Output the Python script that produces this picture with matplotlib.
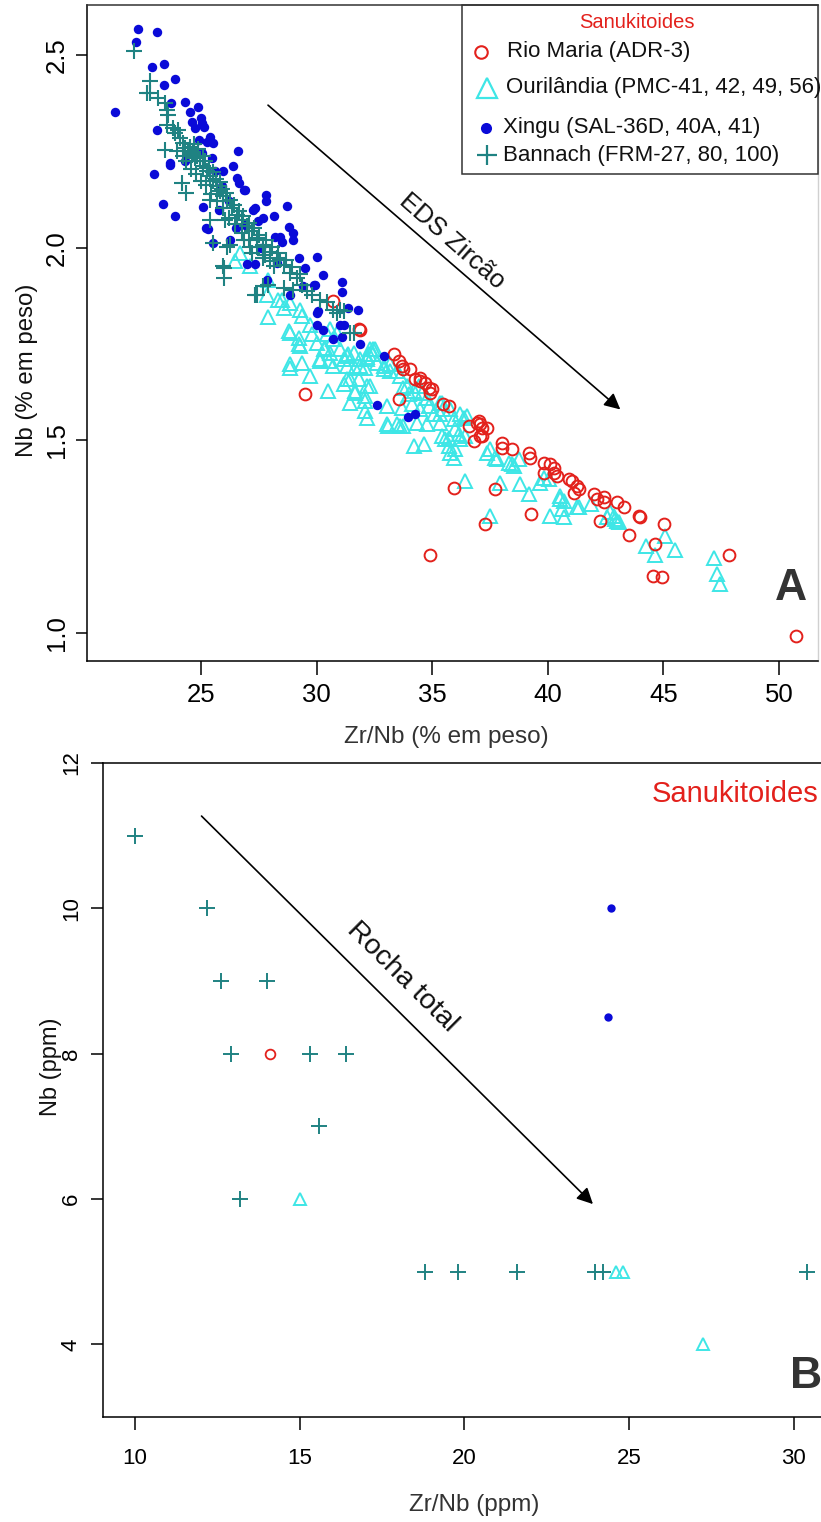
import matplotlib
matplotlib.use("Agg")
import matplotlib.pyplot as plt
from matplotlib.patches import Rectangle

plt.rcParams['font.family'] = ['Liberation Sans', 'DejaVu Sans']

# ---------------- data : panel A (EDS zircão) ----------------
xingu_pts = [(22.26, 2.567), (23.11, 2.559), (22.20, 2.534), (22.90, 2.470), (23.40, 2.477), (23.88, 2.438),
             (23.40, 2.423), (21.28, 2.352), (24.30, 2.377), (24.86, 2.366), (24.54, 2.353), (25.00, 2.336),
             (25.06, 2.323), (24.75, 2.310), (24.60, 2.327), (23.10, 2.306), (25.39, 2.288), (25.54, 2.271),
             (25.25, 2.274), (26.62, 2.250), (23.70, 2.376), (23.68, 2.219), (24.31, 2.224), (25.03, 2.245),
             (25.47, 2.232), (22.97, 2.190), (23.67, 2.215), (23.37, 2.113), (23.88, 2.083), (26.40, 2.213),
             (26.58, 2.180), (26.84, 2.150), (27.82, 2.137), (27.82, 2.120), (28.72, 2.107), (27.34, 2.103),
             (27.70, 2.077), (28.17, 2.083), (25.08, 2.105), (25.32, 2.048), (25.54, 2.012), (26.26, 2.021),
             (28.79, 2.054), (29.00, 2.038), (29.00, 2.021), (28.50, 2.016), (28.21, 2.029), (30.00, 1.977),
             (29.22, 1.973), (26.98, 1.958), (27.34, 1.958), (27.85, 1.917), (28.86, 1.876), (30.27, 1.930),
             (31.10, 1.910), (31.10, 1.885), (29.94, 1.902), (30.08, 1.835), (31.38, 1.844), (31.81, 1.838),
             (30.00, 1.798), (30.27, 1.785), (31.02, 1.800), (31.17, 1.798), (30.73, 1.762), (31.10, 1.769),
             (31.89, 1.751), (32.90, 1.718), (25.12, 2.314), (25.97, 2.198), (25.90, 2.159), (26.66, 2.168),
             (26.91, 2.150), (25.80, 2.098), (27.27, 2.098), (27.45, 2.068), (25.22, 2.051), (26.50, 2.051),
             (28.42, 2.029), (29.51, 1.947), (32.61, 1.591), (33.94, 1.561), (34.27, 1.569), (30.00, 1.831),
             (29.91, 1.904), (24.90, 2.280), (25.60, 2.200), (26.20, 2.120), (26.90, 2.060), (27.60, 2.000),
             (28.30, 1.960), (29.40, 1.900)]

bannach_pts = [(22.12, 2.510), (22.80, 2.433), (22.65, 2.401), (22.80, 2.401), (23.16, 2.388), (23.45, 2.375),
               (23.52, 2.358), (23.59, 2.345), (23.52, 2.319), (23.81, 2.310), (23.88, 2.297), (24.02, 2.306),
               (23.45, 2.254), (24.10, 2.284), (24.24, 2.271), (24.31, 2.258), (24.46, 2.250), (24.60, 2.241),
               (24.75, 2.232), (23.95, 2.250), (24.24, 2.237), (24.17, 2.169), (24.34, 2.143), (26.00, 1.947),
               (26.00, 1.921), (27.42, 1.878), (26.26, 2.008),
               (24.53, 2.262), (24.67, 2.249), (24.82, 2.237), (24.96, 2.224), (25.10, 2.211), (25.25, 2.198),
               (25.39, 2.185), (25.54, 2.172), (25.68, 2.159), (25.83, 2.146), (25.97, 2.133), (26.12, 2.120),
               (26.33, 2.103), (26.55, 2.085), (26.77, 2.073), (26.98, 2.055), (27.20, 2.042), (27.42, 2.025),
               (27.70, 2.008), (27.99, 1.990), (28.28, 1.973), (28.57, 1.956),
               (24.72, 2.268), (24.88, 2.255), (25.07, 2.238), (25.18, 2.226), (25.36, 2.207), (25.52, 2.196),
               (25.63, 2.178), (25.81, 2.170), (25.93, 2.152), (26.08, 2.141), (26.27, 2.123), (26.43, 2.112),
               (26.66, 2.094), (26.83, 2.081), (27.06, 2.063), (27.31, 2.052), (27.53, 2.034), (27.82, 2.019),
               (28.07, 2.001), (28.33, 1.986), (28.68, 1.968), (28.93, 1.949), (29.27, 1.931),
               (24.37, 2.226), (24.58, 2.204), (24.79, 2.191), (25.02, 2.173), (25.22, 2.162), (25.44, 2.139),
               (25.71, 2.121), (25.94, 2.102), (26.21, 2.078), (26.48, 2.062), (26.79, 2.038), (27.08, 2.021),
               (27.41, 2.002), (27.76, 1.981),
               (25.39, 2.124), (26.04, 2.073), (25.54, 2.012), (26.12, 2.003), (25.97, 1.952), (27.20, 1.986),
               (25.40, 2.073),
               (27.34, 1.876), (27.70, 1.900), (27.92, 1.904), (28.57, 1.896), (29.00, 1.891), (29.58, 1.887),
               (29.80, 1.878), (30.16, 1.865), (30.47, 1.858), (30.71, 1.839), (31.02, 1.839), (31.17, 1.835),
               (31.60, 1.779), (28.43, 1.969), (28.86, 1.934), (29.15, 1.922), (29.36, 1.904), (26.84, 2.021),
               (27.13, 2.003), (27.70, 1.973), (27.99, 1.965), (28.14, 1.952), (30.88, 1.831), (31.46, 1.779)]

ourilandia_pts = [(26.48, 1.966), (26.69, 1.986), (27.13, 1.952), (27.85, 1.878), (27.92, 1.917), (28.35, 1.865),
                  (28.50, 1.865), (28.57, 1.844), (28.86, 1.857), (29.29, 1.839), (27.92, 1.820), (29.36, 1.822),
                  (28.79, 1.783), (29.22, 1.766), (29.29, 1.746), (29.72, 1.800), (29.80, 1.775), (30.01, 1.753),
                  (30.30, 1.736), (30.44, 1.775), (30.59, 1.788), (30.73, 1.762), (30.88, 1.779), (28.86, 1.697),
                  (29.36, 1.701), (30.16, 1.710), (30.52, 1.706), (31.02, 1.736), (31.31, 1.720), (31.60, 1.727),
                  (32.18, 1.716), (32.32, 1.736), (32.46, 1.736), (28.86, 1.779), (29.22, 1.749), (28.86, 1.688),
                  (29.72, 1.667), (30.51, 1.628), (31.17, 1.645), (31.46, 1.658), (31.82, 1.658), (32.18, 1.641),
                  (32.10, 1.602), (32.18, 1.559), (31.67, 1.624), (33.04, 1.589), (33.11, 1.537), (33.76, 1.537),
                  (34.20, 1.485), (30.37, 1.740), (30.59, 1.727), (30.16, 1.705), (30.73, 1.692), (31.17, 1.710),
                  (31.38, 1.723), (31.89, 1.692), (32.18, 1.710), (32.46, 1.723), (32.61, 1.701), (32.90, 1.692),
                  (33.19, 1.679), (33.62, 1.667), (33.91, 1.641), (34.20, 1.628),
                  (32.54, 1.736), (32.25, 1.723), (31.89, 1.710), (31.31, 1.692), (31.67, 1.688), (32.10, 1.688),
                  (32.90, 1.684), (33.19, 1.697), (33.48, 1.680), (31.31, 1.658), (32.32, 1.641), (31.67, 1.628),
                  (32.10, 1.615), (31.46, 1.598), (32.10, 1.576), (33.62, 1.537), (33.76, 1.637), (33.98, 1.619),
                  (34.41, 1.641), (34.56, 1.624), (34.77, 1.611), (33.69, 1.585), (34.13, 1.593), (34.49, 1.580),
                  (34.85, 1.589), (35.07, 1.567), (35.35, 1.598), (35.35, 1.567), (35.78, 1.580), (34.34, 1.546),
                  (34.77, 1.541), (35.35, 1.546), (35.93, 1.554), (36.22, 1.567), (36.51, 1.563), (34.63, 1.490),
                  (35.42, 1.511), (35.71, 1.507), (36.14, 1.516), (36.22, 1.503), (33.04, 1.541), (33.48, 1.541),
                  (35.42, 1.598), (35.49, 1.580), (36.36, 1.559), (36.00, 1.529), (35.57, 1.503), (36.43, 1.511),
                  (35.78, 1.468), (36.00, 1.477), (35.93, 1.455), (36.43, 1.395), (37.37, 1.468), (37.52, 1.477),
                  (37.73, 1.455), (37.80, 1.451), (37.95, 1.390), (38.31, 1.442), (38.46, 1.438), (38.53, 1.433),
                  (38.74, 1.451), (38.82, 1.386), (39.18, 1.360), (39.68, 1.390), (40.04, 1.399), (39.82, 1.403),
                  (40.55, 1.356), (37.52, 1.304), (40.11, 1.304), (40.69, 1.300), (40.62, 1.321), (40.55, 1.347),
                  (41.27, 1.326), (41.85, 1.334), (42.57, 1.300), (42.86, 1.304), (43.00, 1.291), (42.71, 1.313),
                  (44.23, 1.226), (44.66, 1.202), (45.09, 1.252), (45.52, 1.216), (47.18, 1.194), (47.33, 1.153),
                  (47.44, 1.127), (35.71, 1.485), (40.69, 1.343), (41.34, 1.326), (42.93, 1.295), (43.07, 1.287)]

rio_maria_pts = [(29.51, 1.619), (30.73, 1.861), (31.82, 1.788), (31.86, 1.786), (33.33, 1.723), (33.55, 1.705),
                 (33.69, 1.692), (33.76, 1.684), (34.05, 1.684), (34.27, 1.658), (34.49, 1.662), (34.70, 1.649),
                 (34.85, 1.637), (34.92, 1.624), (33.55, 1.606), (34.49, 1.654), (34.99, 1.632), (35.49, 1.593),
                 (35.71, 1.589), (36.58, 1.537), (36.94, 1.546), (37.16, 1.533), (37.08, 1.511), (36.80, 1.498),
                 (37.01, 1.550), (37.08, 1.541), (37.37, 1.533), (37.16, 1.510), (38.02, 1.494), (38.02, 1.481),
                 (38.46, 1.477), (39.18, 1.468), (39.25, 1.455), (39.82, 1.442), (40.11, 1.438), (40.26, 1.416),
                 (39.82, 1.416), (40.40, 1.408), (40.91, 1.399), (41.06, 1.395), (41.27, 1.382), (41.35, 1.373),
                 (41.13, 1.364), (41.99, 1.360), (42.42, 1.352), (35.93, 1.377), (37.73, 1.373), (42.14, 1.347),
                 (42.42, 1.339), (43.00, 1.339), (43.29, 1.326), (42.25, 1.291), (43.94, 1.304), (43.98, 1.300),
                 (43.51, 1.254), (45.05, 1.282), (44.63, 1.232), (44.55, 1.148), (44.94, 1.144), (47.86, 1.202),
                 (50.72, 0.993), (34.92, 1.202), (37.30, 1.282), (39.28, 1.308), (40.26, 1.429)]

# ---------------- data : panel B (rocha total) ----------------
bannach_b_zrnb = [10.0, 12.2, 12.6, 14.0, 12.9, 15.3, 16.4, 15.6, 13.2, 18.8, 19.8, 21.6, 23.95, 24.2, 30.4]
bannach_b_nb = [11, 10, 9, 9, 8, 8, 8, 7, 6, 5, 5, 5, 5, 5, 5]
rio_b_zrnb = [14.1]
rio_b_nb = [8]
ouril_b_zrnb = [15.0, 24.6, 24.8, 27.25]
ouril_b_nb = [6, 5, 5, 4]
xingu_b_zrnb = [24.45, 24.35]
xingu_b_nb = [10, 8.5]

xticks_a = [25, 30, 35, 40, 45, 50]
yticks_a = [1.0, 1.5, 2.0, 2.5]
xticks_b = [10, 15, 20, 25, 30]
yticks_b = [4, 6, 8, 10, 12]

RED = '#e3211c'
CYAN = '#3ee6e6'
BLUE = '#0a0ad8'
TEAL = '#1f8282'

W, H = 821, 1522
fig = plt.figure(figsize=(W / 100, H / 100), dpi=100)


def rect(l, t, r, b):
    return [l / W, 1 - b / H, (r - l) / W, (b - t) / H]


def unzip(pts):
    return [p[0] for p in pts], [p[1] for p in pts]


axA = fig.add_axes(rect(87, 5, 818, 661))
axB = fig.add_axes(rect(103, 763, 845, 1417))

# ---- panel A ----
x, y = unzip(ourilandia_pts)
axA.plot(x, y, ls='none', marker='^', ms=10, mfc='none', mec=CYAN, mew=1.4)
x, y = unzip(rio_maria_pts)
axA.plot(x, y, ls='none', marker='o', ms=8.5, mfc='none', mec=RED, mew=1.4)
x, y = unzip(xingu_pts)
axA.plot(x, y, ls='none', marker='o', ms=6.8, mfc=BLUE, mec=BLUE, mew=0)
x, y = unzip(bannach_pts)
axA.plot(x, y, ls='none', marker='+', ms=11, mec=TEAL, mew=1.5)

axA.set_xlim(20.07, 51.69)
axA.set_ylim(0.927, 2.63)
axA.set_xticks(xticks_a)
axA.set_xticklabels([str(v) for v in xticks_a])
axA.set_yticks(yticks_a)
axA.set_yticklabels([f'{v:.1f}' for v in yticks_a], rotation=90, va='center')
axA.tick_params(axis='x', direction='out', length=10, width=1.1, labelsize=18.5, pad=6)
axA.tick_params(axis='y', direction='out', length=8, width=1.1, labelsize=18.5, pad=5)
for s in ['left', 'bottom']:
    axA.spines[s].set_linewidth(1.1)
axA.spines['top'].set_linewidth(1.1)
axA.spines['top'].set_color('#333333')
axA.spines['right'].set_color('#d0d0d0')
axA.spines['right'].set_linewidth(1.0)

axA.annotate('', xy=(43.14, 1.58), xytext=(27.9, 2.37),
             arrowprops=dict(arrowstyle='-|>', color='black', lw=1.2, mutation_scale=24,
                             shrinkA=0, shrinkB=0))
axA.text(35.87, 2.016, 'EDS Zircão', rotation=-41.3, rotation_mode='anchor',
         ha='center', va='center', fontsize=18.5, color='#111111')

# ---- panel B ----
axB.plot(ouril_b_zrnb, ouril_b_nb, ls='none', marker='^', ms=9, mfc='none', mec=CYAN, mew=1.4)
axB.plot(rio_b_zrnb, rio_b_nb, ls='none', marker='o', ms=7, mfc='none', mec=RED, mew=1.3)
axB.plot(xingu_b_zrnb, xingu_b_nb, ls='none', marker='o', ms=6, mfc=BLUE, mec=BLUE, mew=0)
axB.plot(bannach_b_zrnb, bannach_b_nb, ls='none', marker='+', ms=11, mec=TEAL, mew=1.4)

axB.set_xlim(9.03, 31.55)
axB.set_ylim(3, 12)
axB.set_xticks(xticks_b)
axB.set_xticklabels([str(v) for v in xticks_b])
axB.set_yticks(yticks_b)
axB.set_yticklabels([str(v) for v in yticks_b], rotation=90, va='center')
axB.tick_params(axis='x', direction='out', length=9.4, width=1.1, labelsize=16, pad=13)
axB.tick_params(axis='y', direction='out', length=8.3, width=1.1, labelsize=16, pad=7)
for s in ['left', 'bottom', 'top']:
    axB.spines[s].set_linewidth(1.1)
axB.spines['right'].set_visible(False)

axB.annotate('', xy=(23.9, 5.93), xytext=(12.02, 11.27),
             arrowprops=dict(arrowstyle='-|>', color='black', lw=1.2, mutation_scale=24,
                             shrinkA=0, shrinkB=0))
axB.text(18.1, 9.05, 'Rocha total', rotation=-44.8, rotation_mode='anchor',
         ha='center', va='center', fontsize=20.5, color='#111111')

# ---- overlay for labels / legend (pixel coordinates) ----
ov = fig.add_axes([0, 0, 1, 1], zorder=10)
ov.set_xlim(0, W)
ov.set_ylim(H, 0)
ov.axis('off')

LBL = '#333333'
ov.text(446, 737, 'Zr/Nb (% em peso)', ha='center', va='center', fontsize=17.5, color=LBL)
ov.text(27, 370, 'Nb (% em peso)', ha='center', va='center', rotation=90, fontsize=17.3, color='#111111')
ov.text(474, 1505, 'Zr/Nb (ppm)', ha='center', va='center', fontsize=17.5, color=LBL)
ov.text(51, 1067, 'Nb (ppm)', ha='center', va='center', rotation=90, fontsize=17, color='#111111')

ov.text(791, 589, 'A', ha='center', va='center', fontsize=32, fontweight='bold', color='#333333')
ov.text(790, 1376, 'B', ha='left', va='center', fontsize=32, fontweight='bold', color='#333333')
ov.text(818, 794, 'Sanukitoides', ha='right', va='center', fontsize=21, color=RED)

# legend box
ov.add_patch(Rectangle((462, 5), 356, 169, fill=False, ec='#333333', lw=1.1))
ov.text(637, 23, 'Sanukitoides', ha='center', va='center', fontsize=14.5, color=RED)
ov.plot([481], [52], ls='none', marker='o', ms=9, mfc='none', mec=RED, mew=1.5)
ov.text(507, 52, 'Rio Maria (ADR-3)', ha='left', va='center', fontsize=16, color='#111111')
ov.plot([487], [88], ls='none', marker='^', ms=15, mfc='none', mec=CYAN, mew=1.6)
ov.text(506, 88, 'Ourilândia (PMC-41, 42, 49, 56)', ha='left', va='center', fontsize=16, color='#111111')
ov.plot([486], [128], ls='none', marker='o', ms=8, mfc=BLUE, mec=BLUE, mew=0)
ov.text(503, 128, 'Xingu (SAL-36D, 40A, 41)', ha='left', va='center', fontsize=16, color='#111111')
ov.plot([487], [155], ls='none', marker='+', ms=15, mec=TEAL, mew=1.6)
ov.text(503, 155, 'Bannach (FRM-27, 80, 100)', ha='left', va='center', fontsize=16, color='#111111')

fig.savefig('out.png', dpi=100)
